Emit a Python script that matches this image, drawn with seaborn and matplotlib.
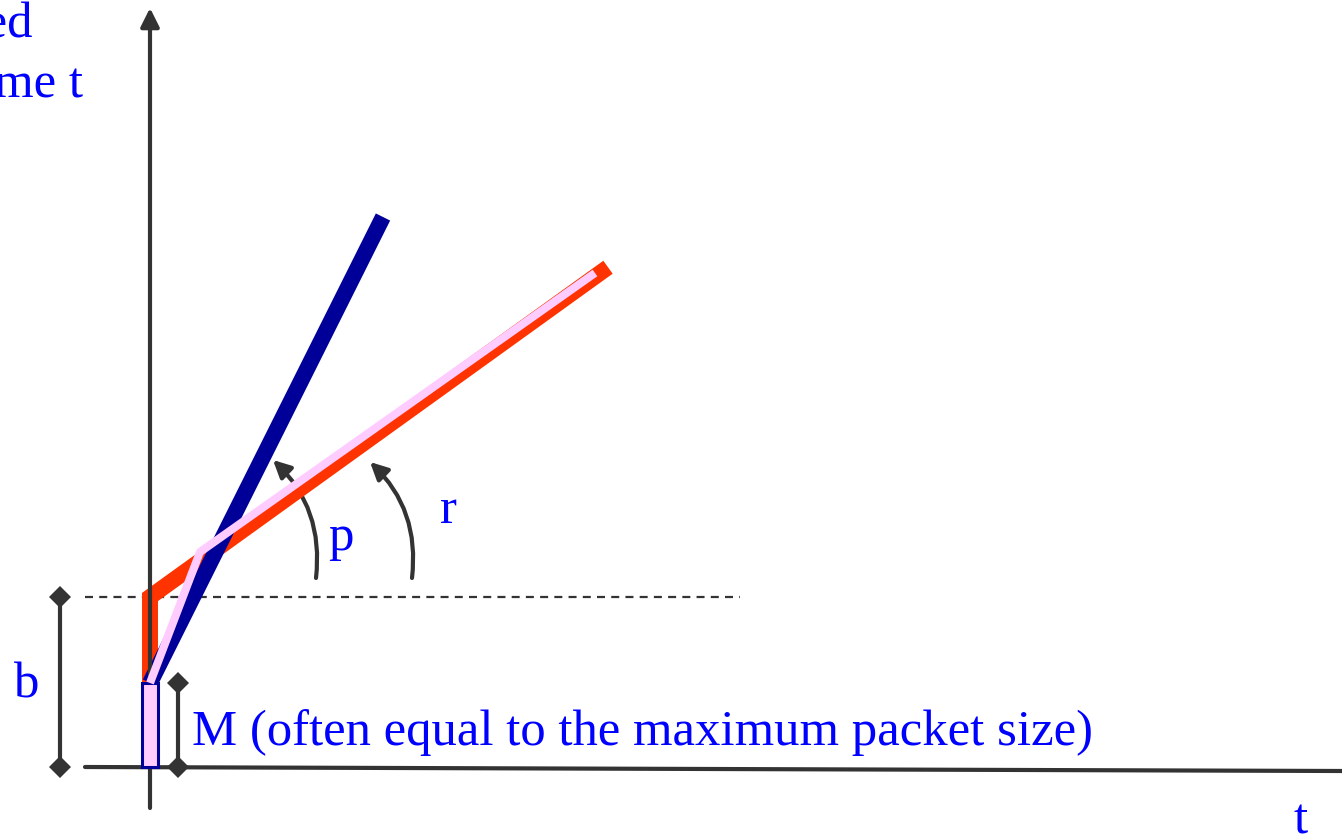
import matplotlib
matplotlib.use("Agg")
import matplotlib.pyplot as plt
import seaborn as sns
import numpy as np
from matplotlib.patches import Rectangle, FancyArrowPatch

# token bucket (r, b) with peak rate p and max packet M -- units = pixels of the drawing
M = 84
b = 170
p = 2.0
r = 0.72

# blue: peak rate line  M + p t
peak_t = [0, 233]
peak_y = [M, M + p * 233]

# red: bucket line  b + r t  (with vertical jump from M to b)
bucket_t = [0, 0, 458]
bucket_y = [M, b, b + r * 458]

# pink: resulting arrival curve
curve_t = [0, 50, 445]
curve_y = [M, 215, 494]

BLUE_TXT = "#0000ff"
NAVY = "#000099"
RED = "#ff3300"
PINK = "#ffccff"
GRAY = "#333333"

sns.set_style("white")
plt.rcParams['font.family'] = ['Liberation Serif', 'DejaVu Serif']

fig = plt.figure(figsize=(13.42, 8.39), dpi=100)
ax = fig.add_axes([0, 0, 1, 1])
ax.set_xlim(-150, 1192)
ax.set_ylim(-72, 767)
ax.axis('off')

def line(x, y, **kw):
    # raw polyline through seaborn, no aggregation
    sns.lineplot(x=x, y=y, sort=False, estimator=None, errorbar=None, ax=ax, **kw)

# axes of the diagram
ax.annotate('', xy=(0, 759), xytext=(0, -41),
            arrowprops=dict(arrowstyle='-|>', lw=3, color=GRAY, mutation_scale=28,
                            shrinkA=0, shrinkB=0))
line([-65, 1192], [0, -4], color=GRAY, linewidth=3)

# level b dashed
line([-65, 590], [b, b], color=GRAY, linewidth=1.6)
ax.lines[-1].set_dashes((3.6, 2.8))

# red bucket line
line(bucket_t, bucket_y, color=RED, linewidth=11.5,
     solid_capstyle='butt', solid_joinstyle='miter')
# blue peak line
line(peak_t, peak_y, color=NAVY, linewidth=11.5, solid_capstyle='butt')

# pink resulting curve
ax.add_patch(Rectangle((-8, 0), 16, M, facecolor=PINK, edgecolor=NAVY, lw=2.2, zorder=4))
line(curve_t, curve_y, color=PINK, linewidth=5.8, solid_capstyle='butt', zorder=5)

# brackets for b and M
line([-90, -90], [0, b], color=GRAY, linewidth=3, marker='D', markersize=11,
     markeredgewidth=0)
line([28, 28], [0, M], color=GRAY, linewidth=3, marker='D', markersize=11,
     markeredgewidth=0)

# curved arrows for the slopes
for tail, head in [((166, 189), (123, 307)), ((262, 189), (220, 305))]:
    ax.add_patch(FancyArrowPatch(tail, head, connectionstyle='arc3,rad=0.25',
                                 arrowstyle='-|>', mutation_scale=26, lw=3,
                                 color=GRAY, shrinkA=0, shrinkB=0))

fs = 36.5
ax.text(42, 22, "M (often equal to the maximum packet size)", color=BLUE_TXT,
        fontsize=fs, va='baseline')
ax.text(-137, 70, "b", color=BLUE_TXT, fontsize=fs, va='baseline')
ax.text(178, 217, "p", color=BLUE_TXT, fontsize=fs, va='baseline')
ax.text(290, 244, "r", color=BLUE_TXT, fontsize=fs, va='baseline')
ax.text(1143, -67, "t", color=BLUE_TXT, fontsize=fs, va='baseline')
ax.text(-117, 729, "transmitted", color=BLUE_TXT, fontsize=fs, va='baseline', ha='right')
ax.text(-67, 670, "up to time t", color=BLUE_TXT, fontsize=fs, va='baseline', ha='right')

fig.savefig("out.png", dpi=100)
